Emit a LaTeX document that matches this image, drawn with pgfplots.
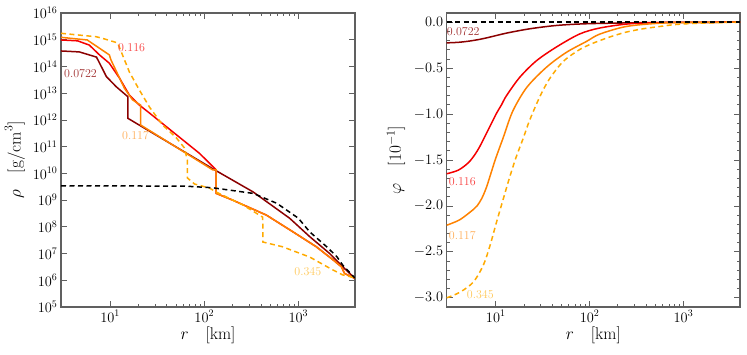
\documentclass[border=0pt]{standalone}
\usepackage{pgfplots}
\pgfplotsset{compat=1.18}

\definecolor{cdark}{RGB}{139,0,0}
\definecolor{cred}{RGB}{245,0,0}
\definecolor{corange}{RGB}{255,130,0}
\definecolor{cdash}{RGB}{255,170,0}

\tikzset{
  dsh/.style={dash pattern=on 5pt off 3.5pt},
  lab/.style={font=\fontsize{12}{14}\selectfont, anchor=center},
}

\begin{document}
\begin{tikzpicture}

% density profiles
\begin{axis}[
    at={(0pt,0pt)}, anchor=south west,
    scale only axis,
    width=294pt, height=294pt,
    xmode=log, xmin=3, xmax=4000,
    xtick={10,100,1000},
    tick align=inside,
    axis line style={gray!75!black, line width=1.1pt},
    tick style={gray!75!black, line width=0.8pt},
    major tick length=6pt, minor tick length=3pt,
    tick label style={font=\fontsize{14}{16}\selectfont},
    xlabel={$r$\quad[km]},
    every axis x label/.style={at={(axis description cs:0.5,-0.097)},anchor=center,
        font=\fontsize{17}{20}\selectfont},
    ymode=log, ymin=1e5, ymax=1e16,
    ytick={1e5,1e6,1e7,1e8,1e9,1e10,1e11,1e12,1e13,1e14,1e15,1e16},
    yminorticks=false,
    ylabel={$\rho$\quad$[\mathrm{g/cm}^3]$},
    every axis y label/.style={at={(axis description cs:-0.157,0.5)},rotate=90,anchor=center,
        font=\fontsize{17}{20}\selectfont},
]
\addplot[cdark, line width=1.5pt] coordinates {
 (3,3.8e14) (4.7,3.5e14) (7.15,2.24e14) (8.3,8e13) (9.1,4.2e13) (11.6,1.74e13)
 (15.4,7.4e12) (15.4,1.15e12) (129,1.35e10) (329,2.04e9) (807,2.1e8)
 (1320,4.3e7) (2140,1.02e7) (2960,3.2e6) (4000,1.17e6)
};
\addplot[cred, line width=1.5pt] coordinates {
 (3,9.8e14) (4.5,9.1e14) (6.0,6.3e14) (7.7,2.7e14) (9.8,1.32e14) (12.6,3.6e13)
 (14.2,1.74e13) (16.0,8.5e12) (20.4,3.6e12) (26.2,1.8e12) (39.5,5.6e11)
 (89,5.6e10) (134,1.35e10) (134,1.78e9) (200,1e9) (457,2.75e8) (870,6.6e7)
 (1550,1.8e7) (2340,5.8e6) (2870,3.2e6) (3100,1.8e6) (4000,1.17e6)
};
\addplot[corange, line width=1.5pt] coordinates {
 (3,1.23e15) (5.7,9.8e14) (7.7,4.8e14) (9.8,2.7e14) (10.2,1.74e14) (14.2,1.5e13)
 (17.3,5.6e12) (21,3.6e12) (21,6.5e11) (123,1.35e10) (134,1.35e10) (134,1.78e9)
 (200,1e9) (457,2.75e8) (870,6.6e7) (1550,1.8e7) (2340,5.8e6) (2870,3.2e6)
 (3100,1.8e6) (4000,1.17e6)
};
\addplot[cdash, dsh, line width=1.5pt] coordinates {
 (3,1.74e15) (7.15,1.29e15) (8.7,1.07e15) (12.0,7.6e14) (16.0,6.2e13)
 (20.4,1.32e13) (26.2,3.0e12) (36,6.5e11) (50.7,2.1e11) (61.6,8.9e10)
 (66,3.2e10) (66,6.8e9) (78.8,4.0e9) (114,2.8e9) (134,2.0e9) (257,6.6e8)
 (418,2.3e8) (420,2.7e7) (676,1.8e7) (1320,7.4e6) (2320,2.45e6)
 (2950,1.6e6) (4000,1.23e6)
};
\addplot[black, dsh, line width=1.5pt] coordinates {
 (3,3.4e9) (60,3.35e9) (122,2.9e9) (331,1.78e9) (590,7.6e8) (1000,2.1e8)
 (1320,6.5e7) (2000,1.8e7) (2570,7.6e6) (2960,3.7e6) (4000,1.2e6)
};
\node[lab, text=cred!75!white] at (axis cs:16.9,4.9e14) {0.116};
\node[lab, text=cdark!80!white] at (axis cs:4.83,5.2e13) {0.0722};
\node[lab, text=corange!65!white] at (axis cs:18.6,2.5e11) {0.117};
\node[lab, text=cdash!65!white] at (axis cs:1260,2.1e6) {0.345};
\end{axis}

% potential profiles, in units of 10^-1
\begin{axis}[
    at={(385.7pt,0pt)}, anchor=south west,
    scale only axis,
    width=293.3pt, height=294pt,
    xmode=log, xmin=3, xmax=4000,
    xtick={10,100,1000},
    tick align=inside,
    axis line style={gray!75!black, line width=1.1pt},
    tick style={gray!75!black, line width=0.8pt},
    major tick length=6pt, minor tick length=3pt,
    tick label style={font=\fontsize{14}{16}\selectfont},
    xlabel={$r$\quad[km]},
    every axis x label/.style={at={(axis description cs:0.5,-0.097)},anchor=center,
        font=\fontsize{17}{20}\selectfont},
    ymin=-3.1, ymax=0.1,
    ytick={-3,-2.5,-2,-1.5,-1,-0.5,0},
    minor y tick num=4,
    yticklabel style={/pgf/number format/.cd, fixed, fixed zerofill, precision=1},
    ylabel={$\varphi$\quad$[10^{-1}]$},
    every axis y label/.style={at={(axis description cs:-0.173,0.5)},rotate=90,anchor=center,
        font=\fontsize{17}{20}\selectfont},
]
\addplot[cdark, line width=1.5pt, smooth] coordinates {
 (3,-0.225) (4,-0.219) (5.2,-0.206) (6.8,-0.186) (8.6,-0.163) (13,-0.119)
 (23,-0.072) (44,-0.036) (92,-0.017) (340,-0.006) (1000,-0.002) (4000,0)
};
\addplot[cred, line width=1.5pt, smooth] coordinates {
 (3,-1.65) (4.0,-1.61) (5.1,-1.53) (6.0,-1.44) (6.75,-1.354) (7.6,-1.25)
 (8.6,-1.14) (10.2,-0.99) (11.5,-0.90) (13,-0.80) (18,-0.60) (27.1,-0.42)
 (44.3,-0.27) (77.6,-0.13) (126,-0.065) (251,-0.02) (562,-0.004) (4000,0)
};
\addplot[corange, line width=1.5pt, smooth] coordinates {
 (3,-2.21) (4.14,-2.15) (5.75,-2.04) (6.31,-2.00) (7.08,-1.92) (7.94,-1.80)
 (8.91,-1.64) (10,-1.48) (11.97,-1.26) (15.14,-0.97) (21.38,-0.71) (34.7,-0.49)
 (56.2,-0.33) (92.3,-0.21) (128,-0.13) (245,-0.047) (556,-0.011) (1259,-0.003)
 (4000,0)
};
\addplot[cdash, dsh, line width=1.5pt, smooth] coordinates {
 (3,-3.0) (4.14,-2.94) (5.75,-2.83) (7.33,-2.65) (8.63,-2.44) (10.16,-2.18)
 (11.97,-1.93) (14.13,-1.68) (16.6,-1.46) (19.5,-1.27) (22.9,-1.07) (29.5,-0.81)
 (37.2,-0.62) (52,-0.43) (77.6,-0.30) (108,-0.23) (162,-0.163) (245,-0.108)
 (369,-0.072) (556,-0.047) (832,-0.025) (1479,-0.011) (4000,0)
};
\addplot[black, dsh, line width=1.5pt] coordinates {(3,0) (4000,0)};
\node[lab, text=cdark!80!white] at (axis cs:4.5,-0.10) {0.0722};
\node[lab, text=cred!75!white] at (axis cs:4.4,-1.74) {0.116};
\node[lab, text=corange!65!white] at (axis cs:4.4,-2.32) {0.117};
\node[lab, text=cdash!65!white] at (axis cs:6.84,-2.966) {0.345};
\end{axis}

\pgfresetboundingbox
\path[use as bounding box] (-61pt,-47pt) rectangle (686pt,307pt);
\end{tikzpicture}
\end{document}
